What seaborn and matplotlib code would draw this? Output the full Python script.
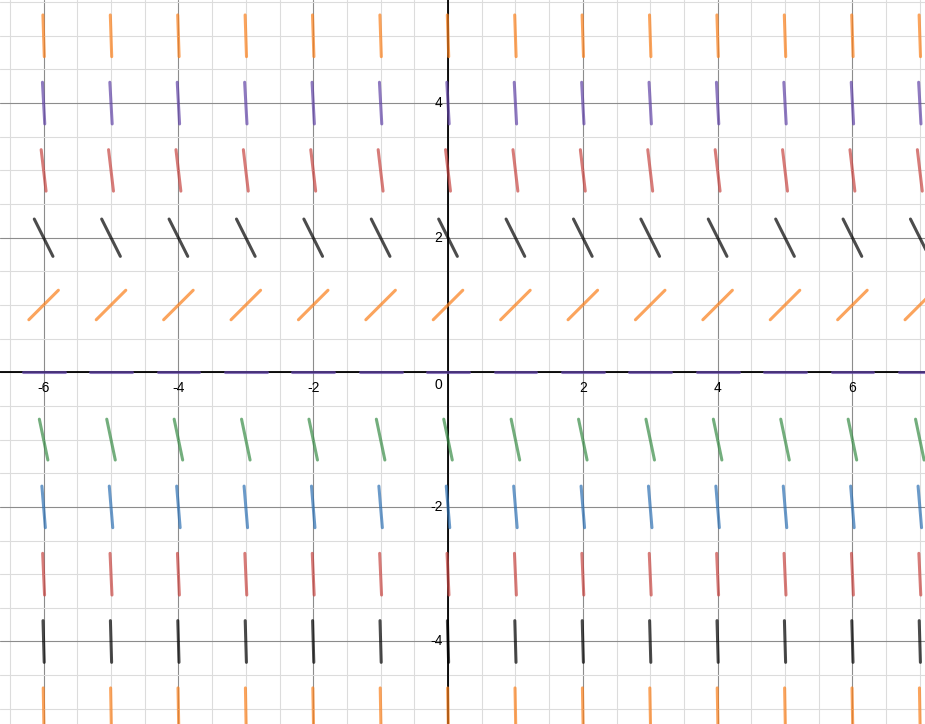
import numpy as np
import pandas as pd
import matplotlib
matplotlib.use('Agg')
import matplotlib.pyplot as plt
import seaborn as sns

# ─── Data ─────────────────────────────────────────────────────────────────────

x_points = list(range(-6, 8))
y_rows = [5, 4, 3, 2, 1, 0, -1, -2, -3, -4, -5]
row_slopes = [-30, -18, -8.5, -2, 1, 0, -4.8, -12, -22, -35, -55]
row_colors = ['orange', 'purple', 'red', 'black', 'orange', 'purple',
              'green', 'blue', 'red', 'black', 'orange']

x_ticks = [-6, -4, -2, 2, 4, 6]
y_ticks = [-4, -2, 2, 4]

palette = {
    'red':    '#c74440',
    'blue':   '#2d70b3',
    'green':  '#388c46',
    'purple': '#6042a6',
    'orange': '#fa7e19',
    'black':  '#000000',
}

SEG_LEN = 0.62  # data units, every slope mark has the same length

# ─── Build segment table ──────────────────────────────────────────────────────

rows = []
seg = 0
for y, m, col in zip(y_rows, row_slopes, row_colors):
    half_dx = SEG_LEN / 2 / np.sqrt(1 + m * m)
    for x in x_points:
        for s in (-1, 1):
            rows.append({'seg': seg, 'x': x + s * half_dx,
                         'y': y + s * half_dx * m, 'color': col})
        seg += 1
df = pd.DataFrame(rows)

# ─── Plot ─────────────────────────────────────────────────────────────────────

sns.set_style('white')
plt.rcParams['font.family'] = ['Liberation Sans', 'DejaVu Sans']

fig = plt.figure(figsize=(9.25, 7.24), dpi=100)
ax = fig.add_axes([0, 0, 1, 1])

ax.set_xlim(-6.647, 7.077)
ax.set_ylim(-5.226, 5.532)

ax.set_xticks(np.arange(-6, 8, 2))
ax.set_yticks(np.arange(-4, 6, 2))
ax.set_xticks(np.arange(-6.5, 7.5, 0.5), minor=True)
ax.set_yticks(np.arange(-5, 6, 0.5), minor=True)
ax.grid(which='minor', color='#dcdcdc', linewidth=0.8, zorder=0)
ax.grid(which='major', color='#8c8c8c', linewidth=0.8, zorder=0)
ax.tick_params(which='both', length=0, labelbottom=False, labelleft=False)
ax.set_axisbelow(True)
for sp in ax.spines.values():
    sp.set_visible(False)

ax.axhline(0, color='black', linewidth=1.3, zorder=1.5)
ax.axvline(0, color='black', linewidth=1.3, zorder=1.5)

sns.lineplot(data=df, x='x', y='y', hue='color', palette=palette,
             units='seg', estimator=None, sort=False, legend=False,
             linewidth=2.2, alpha=0.7, ax=ax, zorder=3)
ax.set_xlabel('')
ax.set_ylabel('')

for t in x_ticks:
    ax.annotate(str(t).replace('-', '-'), (t, 0), xytext=(0, -6),
                textcoords='offset points', ha='center', va='top',
                fontsize=10, color='black')
for t in y_ticks:
    ax.annotate(str(t), (0, t), xytext=(-4, 0),
                textcoords='offset points', ha='right', va='center',
                fontsize=10, color='black')
ax.annotate('0', (0, 0), xytext=(-4, -4), textcoords='offset points',
            ha='right', va='top', fontsize=10, color='black')

fig.savefig('out.png', dpi=100)
